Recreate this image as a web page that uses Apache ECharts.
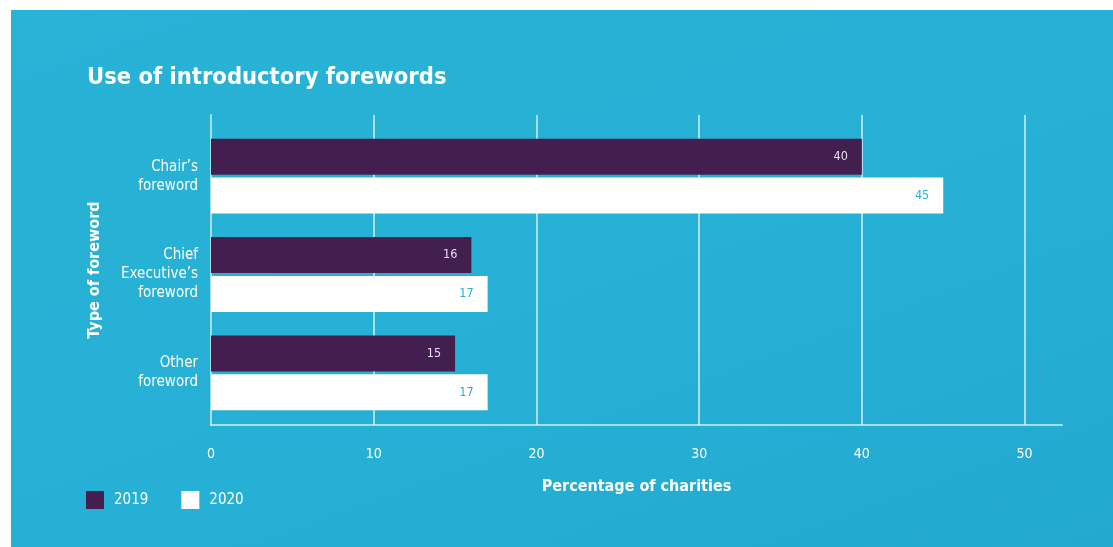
<!DOCTYPE html>
<html>
<head>
<meta charset="utf-8">
<script src="https://cdn.jsdelivr.net/npm/echarts@6/dist/echarts.min.js"></script>
<style>
    html, body { margin: 0; padding: 0; background: #ffffff; }
    #panel {
        position: absolute; left: 11px; top: 10px; right: 0; bottom: 0;
        background: linear-gradient(160deg, #28b2d6 0%, #26b0d5 60%, #22a8d1 100%);
    }
    #wrap { position: relative; width: 1113px; height: 547px; }
    #main { position: absolute; left: 0; top: 0; width: 1113px; height: 547px; }
</style>
</head>
<body>
<div id="wrap">
    <div id="panel"></div>
    <div id="main"></div>
</div>
<script>
    // data
    var categories = ['Chair\u2019s\nforeword', 'Chief\nExecutive\u2019s\nforeword', 'Other\nforeword'];
    var years = ['2019', '2020'];
    var values2019 = [40, 16, 15];
    var values2020 = [45, 17, 17];
    var xTicks = [0, 10, 20, 30, 40, 50];

    var FONT = '"DejaVu Sans Condensed", "DejaVu Sans", sans-serif';
    var PURPLE = '#421f4f';
    var BLUE = '#27b1d5';
    var LINE = 'rgba(255,255,255,0.6)';

    var option = {
        backgroundColor: 'transparent',
        textStyle: { fontFamily: FONT },
        title: {
            text: 'Use of introductory forewords',
            left: 87,
            top: 66,
            padding: 0,
            textStyle: { color: '#fff', fontSize: 23.5, fontWeight: 'bold', fontFamily: FONT }
        },
        legend: {
            data: years,
            left: 86,
            top: 491,
            padding: 0,
            itemWidth: 18,
            itemHeight: 18,
            itemGap: 33,
            icon: 'rect',
            textStyle: { color: '#fff', fontSize: 15, padding: [0, 0, 0, 5] }
        },
        grid: [
            // bars
            { left: 211, right: 51, top: 127, bottom: 125 },
            // axis frame + split lines
            { left: 211, right: 51, top: 115, bottom: 122 }
        ],
        xAxis: [
            { gridIndex: 0, type: 'value', min: 0, max: 52.3, show: false },
            {
                gridIndex: 1, type: 'value', min: 0, max: 52.3, interval: 10,
                name: 'Percentage of charities',
                nameLocation: 'middle',
                nameGap: 54,
                nameTextStyle: { color: '#fff', fontSize: 16, fontWeight: 'bold' },
                axisLine: { show: true, lineStyle: { color: LINE, width: 2 } },
                axisTick: { show: false },
                axisLabel: {
                    color: '#fff', fontSize: 14, margin: 22,
                    showMaxLabel: false,
                    formatter: function (v) { return xTicks.indexOf(v) >= 0 ? String(v) : ''; }
                },
                splitLine: { show: true, showMinLine: false, showMaxLine: false, lineStyle: { color: LINE, width: 2 } }
            }
        ],
        yAxis: [
            {
                gridIndex: 0, type: 'category', inverse: true, data: categories,
                axisLine: { show: false },
                axisTick: { show: false },
                axisLabel: { color: '#fff', fontSize: 15, lineHeight: 19, margin: 13, align: 'right' }
            },
            {
                gridIndex: 1, type: 'value', min: 0, max: 1,
                name: 'Type of foreword',
                nameLocation: 'middle',
                nameGap: 108,
                nameTextStyle: { color: '#fff', fontSize: 16, fontWeight: 'bold' },
                axisLine: { show: true, lineStyle: { color: LINE, width: 2 } },
                axisTick: { show: false },
                axisLabel: { show: false },
                splitLine: { show: false }
            }
        ],
        series: [
            {
                name: '2019', type: 'bar', xAxisIndex: 0, yAxisIndex: 0,
                data: values2019,
                barWidth: 36,
                barGap: '8%',
                itemStyle: { color: PURPLE },
                label: { show: true, position: 'insideRight', distance: 14, color: '#e6dfee', fontSize: 12.5 }
            },
            {
                name: '2020', type: 'bar', xAxisIndex: 0, yAxisIndex: 0,
                data: values2020,
                barWidth: 36,
                barGap: '8%',
                itemStyle: { color: '#ffffff' },
                label: { show: true, position: 'insideRight', distance: 14, color: BLUE, fontSize: 12.5 }
            }
        ]
    };

    var chart = echarts.init(document.getElementById('main'), null, { renderer: 'canvas' });
    chart.setOption(option);
</script>
</body>
</html>
